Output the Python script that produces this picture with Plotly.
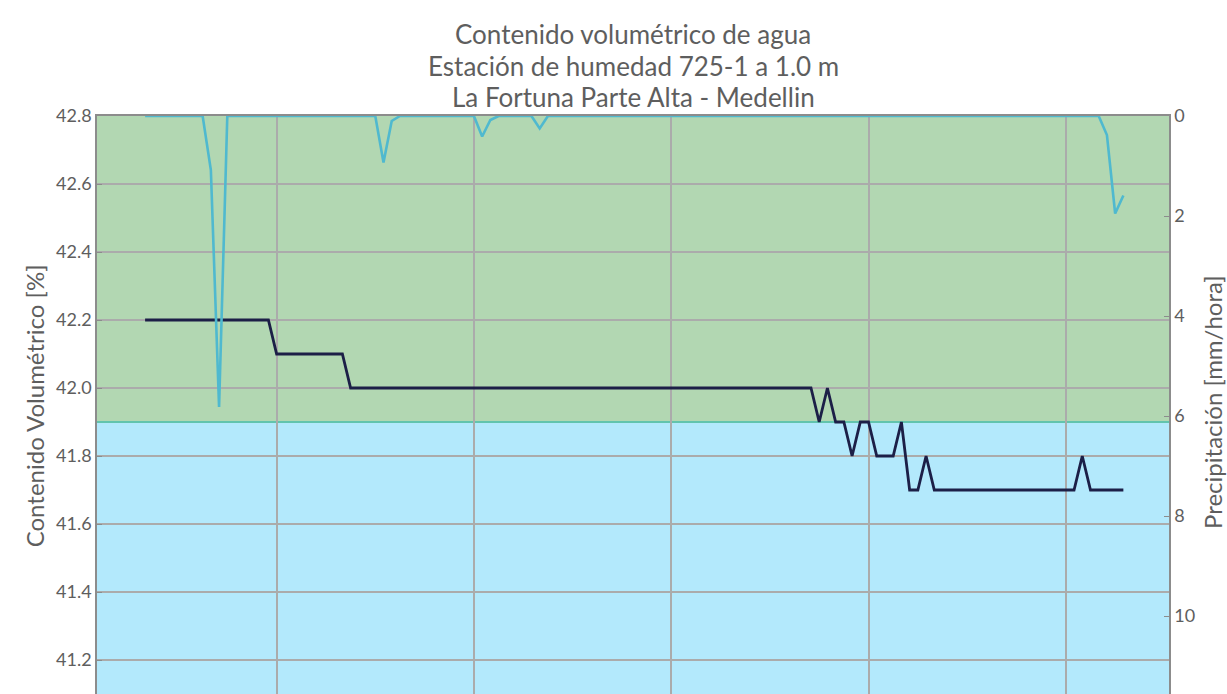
import pandas as pd
import plotly.graph_objects as go

# Hourly series for station 725-1 (1.0 m depth)
fechas = pd.date_range("2021-09-20 08:00", periods=120, freq="h")

humedad = [
    42.2, 42.2, 42.2, 42.2, 42.2, 42.2, 42.2, 42.2, 42.2, 42.2,
    42.2, 42.2, 42.2, 42.2, 42.2, 42.2, 42.1, 42.1, 42.1, 42.1,
    42.1, 42.1, 42.1, 42.1, 42.1, 42.0, 42.0, 42.0, 42.0, 42.0,
    42.0, 42.0, 42.0, 42.0, 42.0, 42.0, 42.0, 42.0, 42.0, 42.0,
    42.0, 42.0, 42.0, 42.0, 42.0, 42.0, 42.0, 42.0, 42.0, 42.0,
    42.0, 42.0, 42.0, 42.0, 42.0, 42.0, 42.0, 42.0, 42.0, 42.0,
    42.0, 42.0, 42.0, 42.0, 42.0, 42.0, 42.0, 42.0, 42.0, 42.0,
    42.0, 42.0, 42.0, 42.0, 42.0, 42.0, 42.0, 42.0, 42.0, 42.0,
    42.0, 42.0, 41.9, 42.0, 41.9, 41.9, 41.8, 41.9, 41.9, 41.8,
    41.8, 41.8, 41.9, 41.7, 41.7, 41.8, 41.7, 41.7, 41.7, 41.7,
    41.7, 41.7, 41.7, 41.7, 41.7, 41.7, 41.7, 41.7, 41.7, 41.7,
    41.7, 41.7, 41.7, 41.7, 41.8, 41.7, 41.7, 41.7, 41.7, 41.7,
]

precipitacion = [
    0, 0, 0, 0, 0, 0, 0, 0, 1.08, 5.82,
    0, 0, 0, 0, 0, 0, 0, 0, 0, 0,
    0, 0, 0, 0, 0, 0, 0, 0, 0, 0.93,
    0.1, 0, 0, 0, 0, 0, 0, 0, 0, 0,
    0, 0.41, 0.08, 0, 0, 0, 0, 0, 0.25, 0,
    0, 0, 0, 0, 0, 0, 0, 0, 0, 0,
    0, 0, 0, 0, 0, 0, 0, 0, 0, 0,
    0, 0, 0, 0, 0, 0, 0, 0, 0, 0,
    0, 0, 0, 0, 0, 0, 0, 0, 0, 0,
    0, 0, 0, 0, 0, 0, 0, 0, 0, 0,
    0, 0, 0, 0, 0, 0, 0, 0, 0, 0,
    0, 0, 0, 0, 0, 0, 0, 0.38, 1.95, 1.59,
]

titulo = [
    "Contenido volumétrico de agua",
    "Estación de humedad 725-1 a 1.0 m",
    "La Fortuna Parte Alta - Medellin",
]

umbral = 41.9          # limit between the two moisture bands
rango_humedad = [41.1, 42.8]
rango_lluvia = [11.56, 0]

FONT = "Lato, 'Open Sans', sans-serif"
GRIS = "#5e5e5e"
H = 694

fig = go.Figure()

fig.add_trace(go.Scatter(
    x=fechas, y=humedad, mode="lines", name="Contenido volumétrico",
    line=dict(color="#1c1f47", width=2.8), yaxis="y",
))
fig.add_trace(go.Scatter(
    x=fechas, y=precipitacion, mode="lines", name="Precipitación",
    line=dict(color="#4fb9cf", width=2.6), yaxis="y2",
))

# Background bands
fig.add_shape(type="rect", xref="paper", yref="y", x0=0, x1=1,
              y0=umbral, y1=rango_humedad[1], fillcolor="#b2d7b2",
              line_width=0, layer="below")
fig.add_shape(type="rect", xref="paper", yref="y", x0=0, x1=1,
              y0=rango_humedad[0], y1=umbral, fillcolor="#b3e9fc",
              line_width=0, layer="below")
fig.add_shape(type="line", xref="paper", yref="y", x0=0, x1=1,
              y0=umbral, y1=umbral, line=dict(color="#62c4ad", width=2),
              layer="below")

x0 = fechas[0] - pd.Timedelta(hours=5.85)
x1 = fechas[-1] + pd.Timedelta(hours=5.55)

# Title lines, stacked from the top of the page
anotaciones = []
for n, linea in enumerate(titulo):
    anotaciones.append(dict(
        text=linea, xref="paper", yref="paper", x=0.5,
        y=1 + (116 - (34 + 31.5 * n)) / (H - 116),
        xanchor="center", yanchor="middle", showarrow=False,
        font=dict(family=FONT, size=26, color=GRIS),
    ))

anotaciones += [
    dict(text="Contenido Volumétrico [%]", textangle=-90,
         xref="paper", yref="paper", x=-0.0585, y=1 - (406 - 116) / (H - 116),
         xanchor="center", yanchor="middle", showarrow=False,
         font=dict(family=FONT, size=24, color=GRIS)),
    dict(text="Precipitación [mm/hora]", textangle=-90,
         xref="paper", yref="paper", x=(1212 - 97) / (1169 - 97),
         y=1 - (402 - 116) / (H - 116),
         xanchor="center", yanchor="middle", showarrow=False,
         font=dict(family=FONT, size=24, color=GRIS)),
]

fig.update_layout(
    width=1227, height=H,
    margin=dict(l=97, r=58, t=116, b=0),
    paper_bgcolor="white", plot_bgcolor="white",
    showlegend=False,
    font=dict(family=FONT, color=GRIS, size=18),
    xaxis=dict(
        type="date", range=[x0, x1], side="top",
        showticklabels=False, ticks="",
        showgrid=True, gridcolor="#ababab", gridwidth=1.5,
        dtick=86400000, tick0="2021-09-21 00:00",
        showline=True, linecolor="#8c8c8c", linewidth=1.5,
        zeroline=False,
    ),
    yaxis=dict(
        range=rango_humedad, dtick=0.2, tick0=41.2, tickformat=".1f",
        showgrid=True, gridcolor="#ababab", gridwidth=1.5,
        ticks="inside", ticklen=5, tickcolor="#8c8c8c",
        showline=True, linecolor="#8c8c8c", linewidth=1.5,
        zeroline=False, tickfont=dict(size=18, color=GRIS),
    ),
    yaxis2=dict(
        range=rango_lluvia, overlaying="y", side="right", dtick=2,
        showgrid=False, zeroline=False,
        ticks="inside", ticklen=5, tickcolor="#8c8c8c",
        showline=True, linecolor="#8c8c8c", linewidth=1.5,
        tickfont=dict(size=18, color=GRIS),
    ),
    annotations=anotaciones,
)

fig.write_html("out.html")
